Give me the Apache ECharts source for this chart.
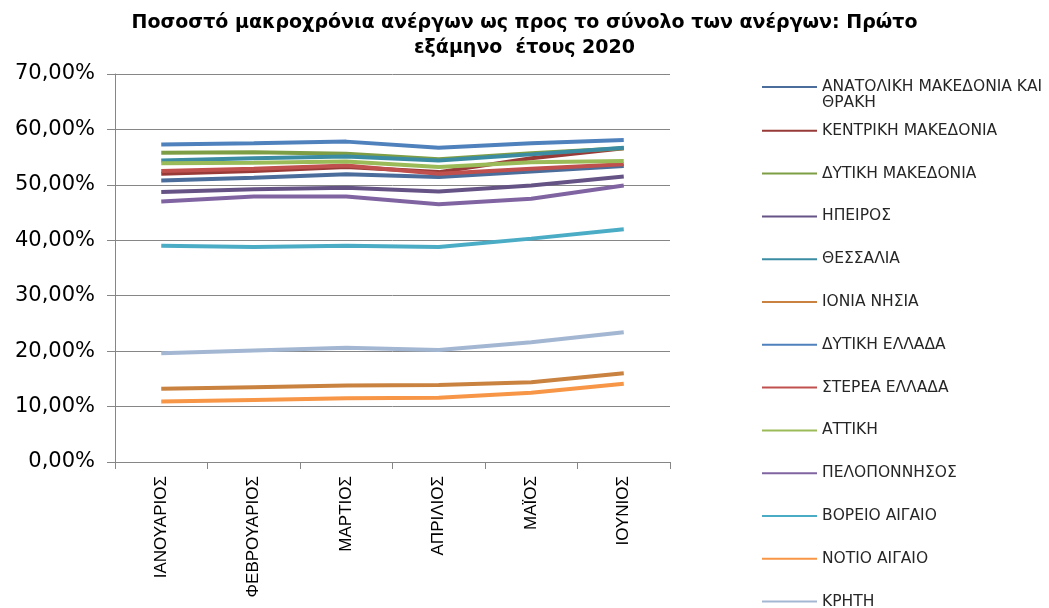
<!DOCTYPE html>
<html>
<head>
<meta charset="utf-8">
<script src="https://cdn.jsdelivr.net/npm/echarts@6/dist/echarts.min.js"></script>
<style>
  html, body { margin: 0; padding: 0; background: #fff; }
  #chart { width: 1049px; height: 608px; }
</style>
</head>
<body>
<div id="chart"></div>
<script>
// μήνες
const months = ["ΙΑΝΟΥΑΡΙΟΣ", "ΦΕΒΡΟΥΑΡΙΟΣ", "ΜΑΡΤΙΟΣ", "ΑΠΡΙΛΙΟΣ", "ΜΑΪΟΣ", "ΙΟΥΝΙΟΣ"];

// ποσοστά (%) ανά περιφέρεια
const anMakThraki = [50.8, 51.3, 51.9, 51.4, 52.4, 53.4];
const kentrMak = [52.0, 52.5, 53.2, 52.3, 54.8, 56.6];
const dytMak = [55.8, 55.9, 55.6, 54.6, 55.7, 56.6];
const ipeiros = [48.7, 49.2, 49.5, 48.8, 49.9, 51.5];
const thessalia = [54.4, 54.8, 55.1, 54.4, 55.5, 56.7];
const ioniaNisia = [13.2, 13.5, 13.8, 13.9, 14.4, 16.0];
const dytEllada = [57.3, 57.5, 57.8, 56.7, 57.5, 58.1];
const stereaEllada = [52.5, 52.9, 53.5, 52.0, 52.9, 53.7];
const attiki = [53.9, 54.0, 54.2, 53.2, 54.1, 54.3];
const peloponnisos = [47.0, 47.9, 47.9, 46.5, 47.5, 49.9];
const vorAigaio = [39.0, 38.8, 39.0, 38.8, 40.3, 42.0];
const notAigaio = [10.9, 11.2, 11.5, 11.6, 12.5, 14.1];
const kriti = [19.6, 20.1, 20.6, 20.2, 21.6, 23.4];

const yTicks = [0, 10, 20, 30, 40, 50, 60, 70];

const regions = [
  { name: "ΑΝΑΤΟΛΙΚΗ ΜΑΚΕΔΟΝΙΑ ΚΑΙ ΘΡΑΚΗ", data: anMakThraki, color: "#4A6D9B" },
  { name: "ΚΕΝΤΡΙΚΗ ΜΑΚΕΔΟΝΙΑ", data: kentrMak, color: "#983A37" },
  { name: "ΔΥΤΙΚΗ ΜΑΚΕΔΟΝΙΑ", data: dytMak, color: "#7E9E45" },
  { name: "ΗΠΕΙΡΟΣ", data: ipeiros, color: "#665385" },
  { name: "ΘΕΣΣΑΛΙΑ", data: thessalia, color: "#3B8CA3" },
  { name: "ΙΟΝΙΑ ΝΗΣΙΑ", data: ioniaNisia, color: "#C9823F" },
  { name: "ΔΥΤΙΚΗ ΕΛΛΑΔΑ", data: dytEllada, color: "#4F81BD" },
  { name: "ΣΤΕΡΕΑ ΕΛΛΑΔΑ", data: stereaEllada, color: "#C0504D" },
  { name: "ΑΤΤΙΚΗ", data: attiki, color: "#9BBB59" },
  { name: "ΠΕΛΟΠΟΝΝΗΣΟΣ", data: peloponnisos, color: "#8064A2" },
  { name: "ΒΟΡΕΙΟ ΑΙΓΑΙΟ", data: vorAigaio, color: "#4BACC6" },
  { name: "ΝΟΤΙΟ ΑΙΓΑΙΟ", data: notAigaio, color: "#F79646" },
  { name: "ΚΡΗΤΗ", data: kriti, color: "#A3B7D3" }
];

function pct(v) {
  return v.toFixed(2).replace(".", ",") + "%";
}

// ένα legend ανά περιφέρεια για σταθερή απόσταση γραμμών
// (η πρώτη σε δύο γραμμές, με κενή γραμμή πάνω ώστε η γραμμή-σύμβολο να πέφτει στην πρώτη)
function makeLegends() {
  return regions.map((r, i) => {
    const first = i === 0;
    return {
      data: [r.name],
      orient: "vertical",
      left: 757,
      top: first ? 58 : 75 + i * 42.8,
      icon: "rect",
      itemWidth: 55,
      itemHeight: 2,
      itemGap: 0,
      selectedMode: false,
      formatter: first ? " \nΑΝΑΤΟΛΙΚΗ ΜΑΚΕΔΟΝΙΑ ΚΑΙ\nΘΡΑΚΗ" : "{name}",
      textStyle: {
        fontFamily: "DejaVu Sans",
        fontSize: 15.5,
        color: "#262626",
        lineHeight: 16
      }
    };
  });
}

function draw(id, option) {
  let chart = echarts.init(document.getElementById(id));
  chart.setOption(option);
}

draw("chart", {
  animation: false,
  title: {
    text: "Ποσοστό μακροχρόνια ανέργων ως προς το σύνολο των ανέργων: Πρώτο\nεξάμηνο  έτους 2020",
    left: "center",
    top: 6,
    textStyle: {
      fontFamily: "DejaVu Sans",
      fontWeight: "bold",
      fontSize: 19,
      lineHeight: 25,
      color: "#000"
    }
  },
  legend: makeLegends(),
  grid: {
    left: 115,
    right: 379,
    top: 74,
    bottom: 146
  },
  xAxis: {
    type: "category",
    data: months,
    boundaryGap: true,
    axisLine: { lineStyle: { color: "#868686", width: 1 } },
    axisTick: { show: true, length: 7, alignWithLabel: false, lineStyle: { color: "#868686" } },
    axisLabel: {
      rotate: 90,
      margin: 14,
      interval: 0,
      fontFamily: "Liberation Sans",
      fontSize: 17,
      color: "#000"
    }
  },
  yAxis: {
    type: "value",
    min: yTicks[0],
    max: yTicks[yTicks.length - 1],
    interval: 10,
    axisLine: { show: true, lineStyle: { color: "#868686" } },
    axisTick: { show: true, inside: false, length: 8, lineStyle: { color: "#868686" } },
    splitLine: { lineStyle: { color: "#868686", width: 1 } },
    axisLabel: {
      margin: 20,
      formatter: pct,
      fontFamily: "DejaVu Sans",
      fontSize: 21,
      color: "#000"
    }
  },
  series: regions.map(r => ({
    name: r.name,
    type: "line",
    data: r.data,
    showSymbol: false,
    symbol: "none",
    color: r.color,
    lineStyle: { width: 4, color: r.color }
  }))
});
</script>
</body>
</html>
